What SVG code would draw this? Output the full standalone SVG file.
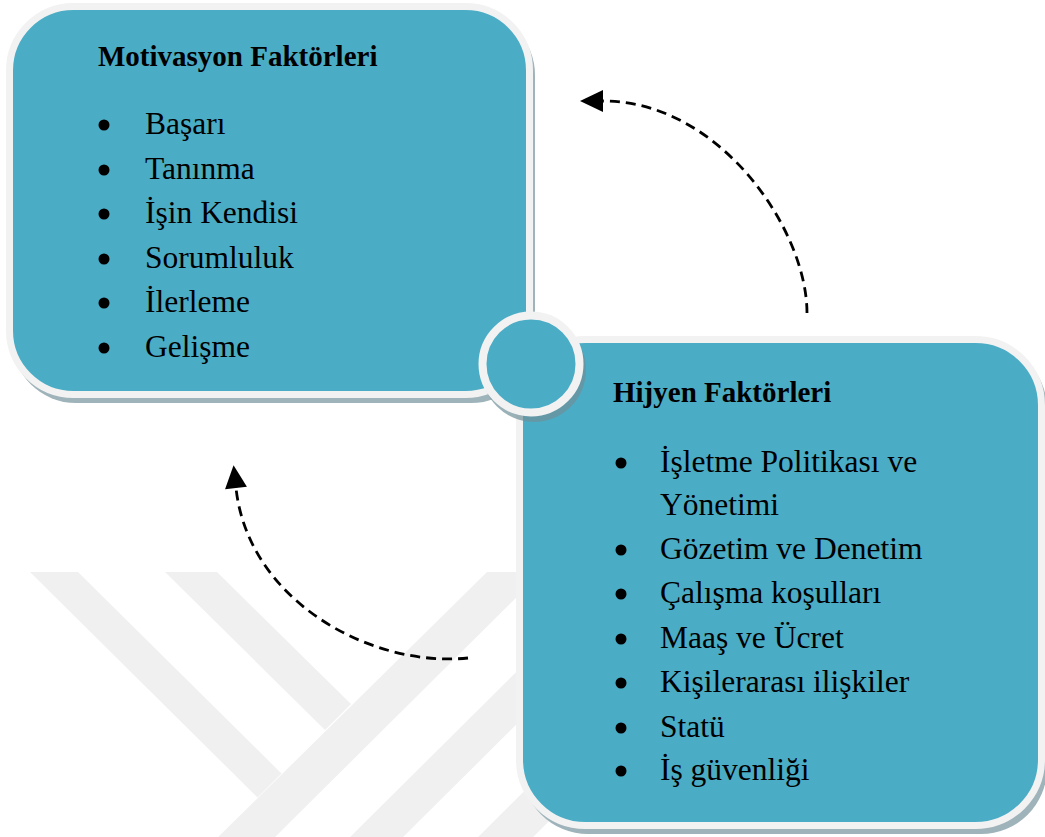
<svg xmlns="http://www.w3.org/2000/svg" width="1045" height="837" viewBox="0 0 1045 837">
  <style>
    .wm { fill: #f0f0f0; }
    .shadow { fill: #9fb3ba; }
    .box { fill: #4bacc6; stroke: #f2f2f2; stroke-width: 7; }
    .title { font-family: "Liberation Serif", "Times New Roman", serif; font-weight: bold; font-size: 29px; fill: #000; }
    .item { font-family: "Liberation Serif", "Times New Roman", serif; font-size: 31.5px; fill: #000; }
    .bullet { fill: #000; }
    .conn { fill: none; stroke: #000; stroke-width: 2.8; stroke-dasharray: 10 6; }
  </style>
  <defs>
    <marker id="arrow" markerUnits="userSpaceOnUse" markerWidth="30" markerHeight="30" refX="0" refY="0" orient="auto" overflow="visible">
      <path d="M0,-11 L23,0 L0,11 z" fill="#000"/>
    </marker>
  </defs>
  <rect width="1045" height="837" fill="#ffffff"/>

  <g id="watermark">
    <polygon class="wm" points="30,572 78,572 281.5,773.5 257.5,797.5"/>
    <polygon class="wm" points="165,572 217,572 351,704 325,730"/>
    <polygon class="wm" points="487,572 542,572 262,850 205,850"/>
    <polygon class="wm" points="617,572 670,572 390,850 337,850"/>
    <polygon class="wm" points="745,572 800,572 520,850 465,850"/>
  </g>

  <g id="connectors">
    <path class="conn" d="M807,313 C807,230 720,101 603,101" marker-end="url(#arrow)"/>
    <path class="conn" d="M468,658 C370,668 248,600 236,488" marker-end="url(#arrow)"/>
  </g>

  <g id="motivasyon">
    <rect class="shadow" x="12" y="11" width="523" height="392" rx="64"/>
    <rect class="box" x="9.5" y="6.5" width="520" height="388" rx="64"/>
    <text class="title" x="98" y="66">Motivasyon Faktörleri</text>
    <circle class="bullet" cx="104" cy="125" r="5.5"/>
    <text class="item" x="145" y="134">Başarı</text>
    <circle class="bullet" cx="104" cy="170" r="5.5"/>
    <text class="item" x="145" y="179">Tanınma</text>
    <circle class="bullet" cx="104" cy="214" r="5.5"/>
    <text class="item" x="145" y="223">İşin Kendisi</text>
    <circle class="bullet" cx="104" cy="259" r="5.5"/>
    <text class="item" x="145" y="268">Sorumluluk</text>
    <circle class="bullet" cx="104" cy="303" r="5.5"/>
    <text class="item" x="145" y="312">İlerleme</text>
    <circle class="bullet" cx="104" cy="348" r="5.5"/>
    <text class="item" x="145" y="357">Gelişme</text>
  </g>

  <g id="hijyen">
    <rect class="shadow" x="522" y="343" width="525" height="491" rx="66"/>
    <rect class="box" x="519.5" y="339.5" width="522" height="486" rx="66"/>
    <text class="title" x="613" y="402">Hijyen Faktörleri</text>
    <circle class="bullet" cx="621" cy="463" r="5.5"/>
    <text class="item" x="660" y="472">İşletme Politikası ve</text>
    <text class="item" x="660" y="515">Yönetimi</text>
    <circle class="bullet" cx="621" cy="550" r="5.5"/>
    <text class="item" x="660" y="559">Gözetim ve Denetim</text>
    <circle class="bullet" cx="621" cy="594" r="5.5"/>
    <text class="item" x="660" y="603">Çalışma koşulları</text>
    <circle class="bullet" cx="621" cy="639" r="5.5"/>
    <text class="item" x="660" y="648">Maaş ve Ücret</text>
    <circle class="bullet" cx="621" cy="683" r="5.5"/>
    <text class="item" x="660" y="692">Kişilerarası ilişkiler</text>
    <circle class="bullet" cx="621" cy="728" r="5.5"/>
    <text class="item" x="660" y="737">Statü</text>
    <circle class="bullet" cx="621" cy="771" r="5.5"/>
    <text class="item" x="660" y="780">İş güvenliği</text>
  </g>

  <g id="center-circle">
    <circle cx="534" cy="370" r="52" fill="#6f909a" opacity="0.7"/>
    <circle cx="531" cy="364" r="48.5" fill="#4bacc6" stroke="#f2f2f2" stroke-width="8"/>
  </g>
</svg>
